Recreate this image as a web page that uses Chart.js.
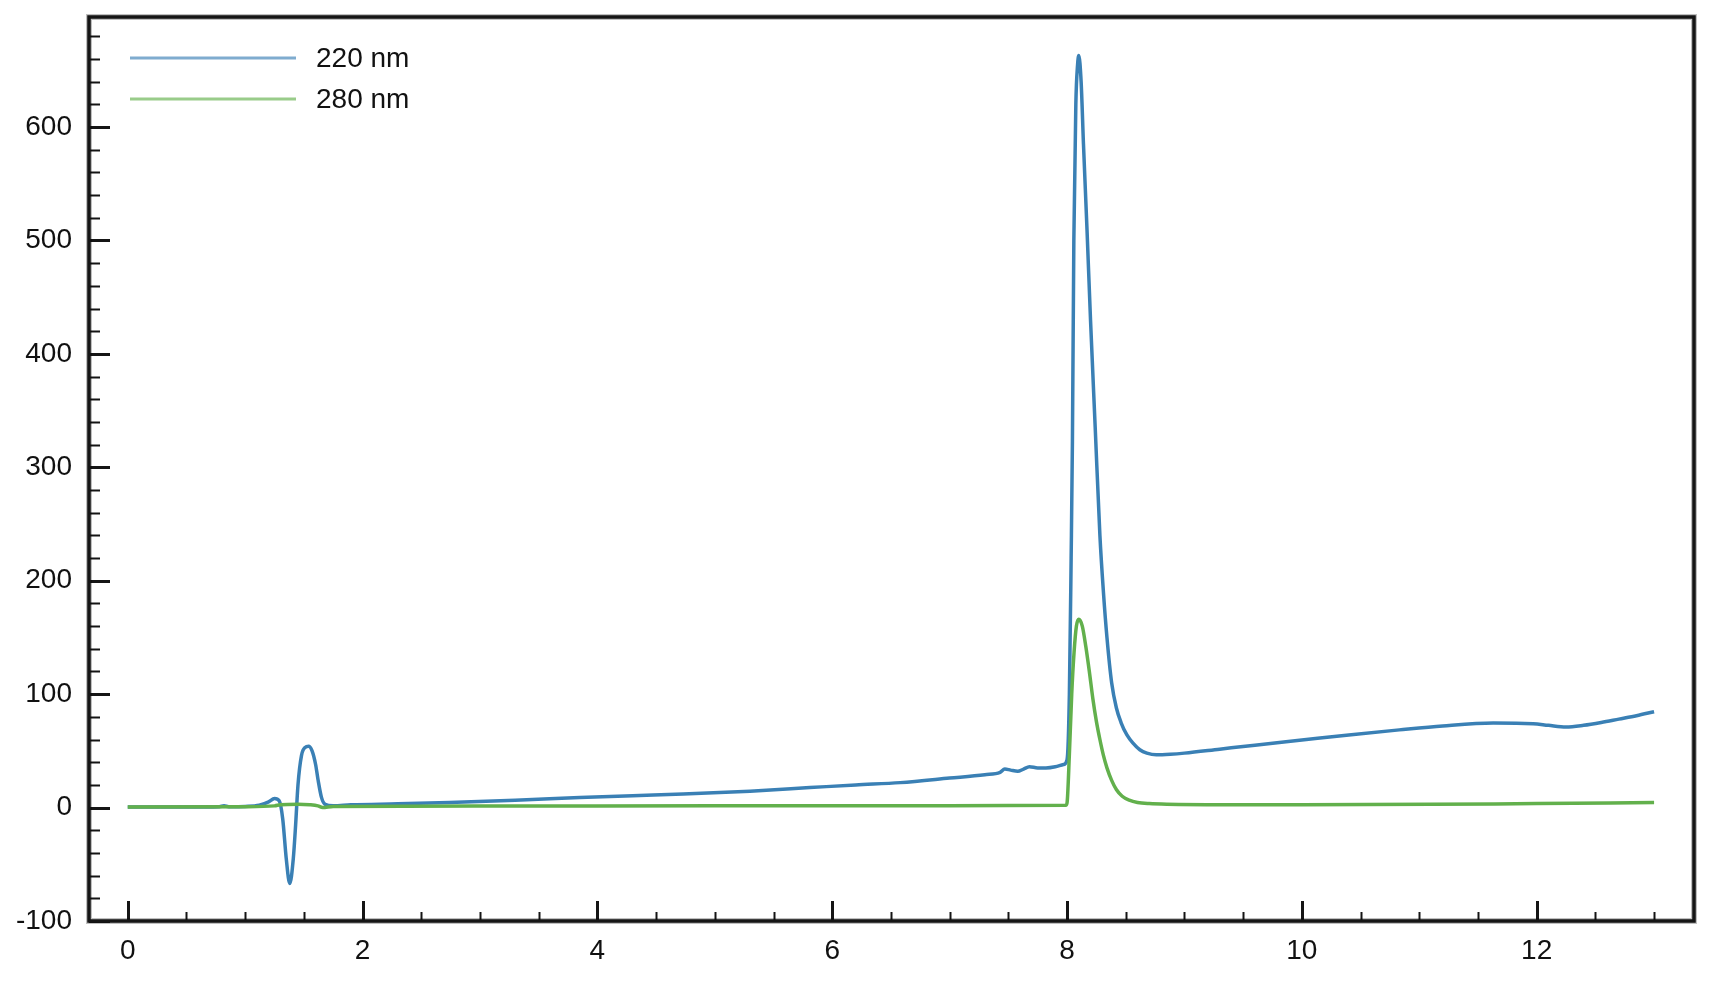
<!DOCTYPE html>
<html lang="en">
<head>
    <meta charset="UTF-8">
    <title>Chromatogram 220 nm / 280 nm</title>
    <script src="https://cdn.jsdelivr.net/npm/chart.js@4.4.0/dist/chart.umd.min.js"></script>
    <style>
        body { margin: 0; background: #fff; }
    </style>
</head>
<body>
    <canvas id="chart" width="1714" height="982"></canvas>

    <script>
        // retention time (min) and absorbance
        const time220 = [0, 0.5, 0.78, 0.82, 0.86, 1.0, 1.12, 1.2, 1.25, 1.29, 1.32, 1.35, 1.38, 1.41, 1.43, 1.45,
            1.48, 1.51, 1.54, 1.57, 1.6, 1.62, 1.65, 1.68, 1.75, 1.9, 2.3, 2.74, 3.3, 3.85, 4.3, 4.73, 5.3, 5.81,
            6.2, 6.58, 7.0, 7.3, 7.43, 7.47, 7.52, 7.58, 7.63, 7.68, 7.75, 7.82, 7.9, 7.97, 8.0, 8.02, 8.035,
            8.046, 8.058, 8.075, 8.09, 8.1, 8.12, 8.14, 8.17, 8.2, 8.24, 8.28, 8.31, 8.34, 8.38, 8.42, 8.46,
            8.51, 8.56, 8.62, 8.68, 8.76, 8.88, 9.0, 9.3, 9.6, 10.0, 10.4, 10.83, 11.2, 11.63, 11.97, 12.1,
            12.25, 12.4, 12.55, 12.7, 12.85, 13.0];
        const abs220 = [0.5, 0.5, 0.8, 1.5, 0.8, 1, 2, 5, 8, 6, -10, -45, -67, -45, -15, 20,
            46, 53, 54, 50, 38, 25, 9, 3, 1.5, 2.4, 3.3, 4.5, 6.5, 8.8, 10.5, 12, 14.5, 17.6,
            20, 22, 26, 29, 31, 34, 33, 32, 34, 36, 35, 35, 36, 38, 42, 100, 220,
            323, 500, 620, 655, 663, 640, 585, 510, 430, 335, 240, 190, 150, 110, 88, 75,
            64, 57, 51, 48, 46.5, 47, 48, 51.5, 55, 59.5, 64, 68.5, 72, 74.5, 74, 72.5,
            71, 72.5, 75, 78, 81, 84.5];

        const time280 = [0, 1.0, 1.25, 1.3, 1.45, 1.55, 1.62, 1.66, 1.75, 3, 5, 7, 7.99, 8.0, 8.02, 8.04, 8.06,
            8.08, 8.1, 8.13, 8.16, 8.19, 8.22, 8.25, 8.28, 8.31, 8.34, 8.38, 8.42, 8.47, 8.53, 8.6, 8.7, 8.85,
            10, 12, 13];
        const abs280 = [0.6, 0.8, 1.5, 2.5, 3, 2.5, 1.5, 0, 1, 1.3, 1.5, 1.6, 2, 4, 47, 100, 137,
            160, 166, 160, 142, 120, 96, 76, 60, 46, 35, 24, 16, 10, 6.5, 4.5, 3.5, 3,
            2.4, 3.5, 4.4];

        const seriesLabels = ['220 nm', '280 nm'];
        const xTicks = [0, 2, 4, 6, 8, 10, 12];
        const yTicks = [-100, 0, 100, 200, 300, 400, 500, 600];

        const blue = '#3a80b5';
        const green = '#62b04c';
        const fontFamily = '"Liberation Sans", Arial, Helvetica, sans-serif';

        function points(xs, ys) {
            return xs.map((x, i) => ({ x: x, y: ys[i] }));
        }

        // frame, inward tick marks and the legend inside the plot
        const framePlugin = {
            id: 'frame',
            afterDraw(chart) {
                const c = chart.ctx;
                const a = chart.chartArea;
                const xs = chart.scales.x;
                const ys = chart.scales.y;
                c.save();
                c.strokeStyle = '#151515';
                c.lineCap = 'butt';

                // y ticks
                for (let v = -100; v <= 690; v += 20) {
                    const major = yTicks.includes(v);
                    const py = Math.round(ys.getPixelForValue(v)) + 0.5;
                    c.lineWidth = major ? 3 : 2;
                    c.beginPath();
                    c.moveTo(a.left, py);
                    c.lineTo(a.left + (major ? 21 : 11), py);
                    c.stroke();
                }
                // x ticks
                for (let v = 0; v <= 13; v += 0.5) {
                    const major = xTicks.includes(v);
                    const px = Math.round(xs.getPixelForValue(v)) + 0.5;
                    c.lineWidth = major ? 3 : 2;
                    c.beginPath();
                    c.moveTo(px, a.bottom);
                    c.lineTo(px, a.bottom - (major ? 20 : 9));
                    c.stroke();
                }

                // frame
                c.strokeStyle = 'rgba(0,0,0,0.25)';
                c.lineWidth = 6;
                c.strokeRect(a.left, a.top, a.right - a.left, a.bottom - a.top);
                c.strokeStyle = '#151515';
                c.lineWidth = 3.5;
                c.strokeRect(a.left, a.top, a.right - a.left, a.bottom - a.top);

                // legend
                c.font = '28px ' + fontFamily;
                c.textBaseline = 'middle';
                c.textAlign = 'left';
                chart.data.datasets.forEach((ds, i) => {
                    const ly = a.top + 41 + i * 41;
                    c.globalAlpha = 0.65;
                    c.strokeStyle = ds.borderColor;
                    c.lineWidth = 3;
                    c.beginPath();
                    c.moveTo(a.left + 41, ly);
                    c.lineTo(a.left + 207, ly);
                    c.stroke();
                    c.globalAlpha = 1;
                    c.fillStyle = '#111';
                    c.fillText(ds.label, a.left + 227, ly + 1);
                });
                c.restore();
            }
        };

        const ctx = document.getElementById('chart').getContext('2d');
        const myChart = new Chart(ctx, {
            type: 'line',
            data: {
                datasets: [{
                    label: seriesLabels[0],
                    data: points(time220, abs220),
                    borderColor: blue,
                    borderWidth: 3.5,
                    pointRadius: 0,
                    fill: false,
                    cubicInterpolationMode: 'monotone',
                    order: 1
                },
                {
                    label: seriesLabels[1],
                    data: points(time280, abs280),
                    borderColor: green,
                    borderWidth: 3.5,
                    pointRadius: 0,
                    fill: false,
                    cubicInterpolationMode: 'monotone',
                    order: 0
                }]
            },
            options: {
                responsive: false,
                animation: false,
                layout: { padding: { top: 17, right: 20, left: 0, bottom: 0 } },
                plugins: {
                    legend: { display: false },
                    tooltip: { enabled: false }
                },
                scales: {
                    x: {
                        type: 'linear',
                        min: -0.33,
                        max: 13.34,
                        grid: { display: false, drawTicks: false },
                        border: { display: false },
                        ticks: {
                            color: '#111',
                            font: { family: fontFamily, size: 28 },
                            padding: 13,
                            maxRotation: 0
                        },
                        afterBuildTicks: s => { s.ticks = xTicks.map(v => ({ value: v })); },
                        afterFit: s => { s.height = 61; s.paddingLeft = 0; s.paddingRight = 0; }
                    },
                    y: {
                        type: 'linear',
                        min: -100,
                        max: 697,
                        grid: { display: false, drawTicks: false },
                        border: { display: false },
                        ticks: {
                            color: '#111',
                            font: { family: fontFamily, size: 28 },
                            padding: 17
                        },
                        afterBuildTicks: s => { s.ticks = yTicks.map(v => ({ value: v })); },
                        afterFit: s => { s.width = 89; s.paddingTop = 0; s.paddingBottom = 0; }
                    }
                }
            },
            plugins: [framePlugin]
        });
    </script>
</body>
</html>
